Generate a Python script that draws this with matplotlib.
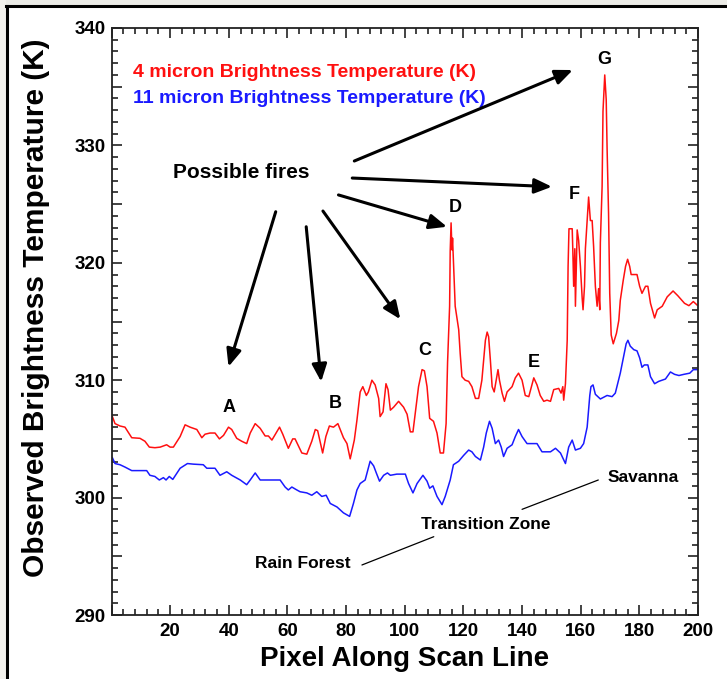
import matplotlib
matplotlib.use("Agg")
import matplotlib.pyplot as plt
from matplotlib import font_manager
from matplotlib.ticker import MultipleLocator, FuncFormatter
from matplotlib.patches import Rectangle
from matplotlib.lines import Line2D

# 4 micron brightness temperature (K) along the scan line
red_x = [0.3, 1.2, 2.9, 4.6, 6.9, 9.7, 11.4, 12.9, 14.8, 16.6, 18.8, 20.0, 21.1, 23.4, 25.1,
         26.8, 29.1, 30.8, 31.9, 33.6, 35.3, 36.8, 38.2, 39.9, 41.0, 42.7, 44.4, 46.1, 47.3,
         49.0, 50.7, 52.4, 53.5, 54.7, 57.3, 58.4, 60.3, 61.8, 62.6, 64.9, 66.6, 68.3, 69.5,
         70.3, 72.0, 73.1, 74.3, 75.7, 77.2, 79.1, 80.3, 81.4, 82.8, 83.7, 84.8, 85.7, 86.9,
         87.6, 88.8, 89.9, 91.1, 91.6, 92.6, 93.6, 94.3, 95.1, 96.2, 97.9, 99.6, 100.8, 101.9,
         102.8, 103.6, 104.7, 105.9, 106.7, 107.6, 108.5, 109.8, 111.0, 112.1, 113.2, 114.1,
         114.6, 115.3, 115.5, 115.8, 116.1, 116.3, 117.2, 118.4, 118.9, 119.5, 120.6, 121.8,
         122.9, 124.1, 125.2, 126.3, 127.5, 128.1, 128.6, 129.2, 129.8, 130.5, 131.2, 131.8,
         132.3, 133.2, 134.0, 134.9, 136.6, 137.7, 138.8, 140.0, 141.1, 142.3, 144.0, 145.1,
         146.2, 147.4, 148.5, 149.7, 150.8, 152.5, 153.3, 153.9, 154.2, 154.8, 155.4, 155.7,
         156.0, 157.1, 157.3, 157.6, 158.0, 158.2, 158.8, 159.3, 159.9, 160.5, 160.8, 161.3,
         161.6, 162.2, 162.7, 163.3, 163.9, 164.4, 165.0, 165.6, 166.1, 166.5, 166.7, 167.3,
         167.6, 168.2, 168.7, 169.0, 169.5, 169.9, 170.4, 171.1, 172.2, 173.0, 173.5, 174.5,
         175.3, 176.0, 176.7, 177.2, 179.2, 180.1, 180.9, 182.1, 182.9, 183.8, 185.2, 186.1,
         187.8, 189.5, 191.5, 193.1, 195.4, 196.9, 198.4, 199.7]
red_y = [306.9, 306.3, 306.1, 306.0, 305.1, 305.05, 304.8, 304.3, 304.25, 304.3, 304.5, 304.3,
         304.3, 305.2, 306.2, 306.0, 305.8, 305.1, 305.4, 305.5, 305.5, 305.0, 305.3, 306.0,
         305.8, 305.05, 304.8, 304.6, 305.5, 306.3, 305.9, 305.25, 305.25, 304.9, 306.0, 305.4,
         304.2, 305.0, 305.0, 303.8, 303.7, 304.8, 305.8, 305.7, 303.8, 305.2, 306.1, 306.0,
         306.3, 305.1, 304.6, 303.3, 304.9, 306.6, 309.0, 309.45, 308.7, 309.0, 310.0, 309.6,
         308.45, 306.9, 307.3, 309.7, 309.2, 307.45, 307.7, 308.2, 307.7, 307.1, 305.6, 305.6,
         307.2, 309.45, 310.9, 310.8, 309.45, 306.75, 306.5, 305.5, 303.8, 303.8, 306.3, 311.5,
         316.3, 321.0, 323.4, 321.1, 322.1, 316.3, 314.3, 312.3, 310.3, 310.0, 309.9, 309.45,
         308.45, 308.45, 310.0, 313.4, 314.1, 313.7, 311.7, 309.45, 309.0, 310.0, 310.9, 310.0,
         308.9, 308.2, 309.0, 309.45, 310.2, 310.6, 310.0, 308.7, 308.6, 310.2, 309.6, 308.7,
         308.2, 308.3, 308.2, 309.2, 309.3, 308.9, 309.45, 308.3, 309.7, 313.4, 319.7, 322.9,
         322.9, 321.2, 318.0, 321.2, 316.3, 322.8, 321.9, 319.7, 317.0, 316.0, 318.0, 321.2,
         323.6, 325.6, 323.6, 323.6, 321.4, 318.0, 316.3, 317.8, 316.0, 321.7, 326.5, 332.9,
         336.0, 333.9, 329.75, 324.2, 317.4, 313.85, 313.1, 314.0, 315.1, 316.8, 318.5, 319.7,
         320.3, 319.7, 319.0, 319.0, 318.0, 317.4, 318.0, 318.0, 316.55, 315.3, 316.0, 316.3,
         317.1, 317.6, 317.2, 316.55, 316.35, 316.7, 316.4]

# 11 micron brightness temperature (K) along the scan line
blue_x = [0.3, 1.2, 2.9, 4.6, 6.9, 12.0, 13.1, 14.8, 16.3, 17.7, 18.6, 19.7, 20.9, 23.4, 25.9,
          27.9, 31.3, 32.5, 35.3, 37.0, 39.3, 41.0, 43.9, 46.1, 47.3, 49.0, 50.7, 55.2, 57.5,
          59.2, 60.3, 61.5, 63.2, 64.3, 66.6, 68.3, 70.0, 71.7, 73.2, 74.6, 76.9, 79.1, 81.2,
          82.5, 83.7, 84.8, 86.5, 88.2, 89.4, 90.3, 91.4, 92.8, 94.1, 95.1, 97.3, 100.2, 101.3,
          102.8, 104.2, 106.2, 107.6, 108.5, 109.6, 111.0, 112.7, 113.8, 115.5, 116.6, 118.4,
          120.1, 121.8, 122.9, 124.1, 125.8, 126.9, 127.8, 128.9, 129.8, 130.9, 132.0, 132.9,
          133.7, 134.9, 136.6, 137.7, 138.8, 140.0, 141.7, 145.1, 146.8, 149.7, 151.4, 153.1,
          154.8, 155.9, 157.1, 158.2, 159.9, 161.0, 162.2, 163.1, 163.5, 164.2, 165.0, 166.7,
          169.0, 170.7, 171.8, 173.5, 174.6, 175.5, 176.1, 176.9, 178.1, 179.2, 180.1, 180.9,
          181.7, 182.9, 183.8, 185.2, 186.6, 188.9, 190.6, 192.0, 193.5, 195.2, 197.2, 198.4,
          199.7]
blue_y = [303.4, 302.9, 302.8, 302.6, 302.3, 302.3, 301.9, 301.8, 301.5, 301.7, 301.5, 301.8,
          301.55, 302.5, 302.9, 302.85, 302.8, 302.5, 302.5, 301.9, 302.2, 301.9, 301.5, 301.1,
          301.5, 302.1, 301.5, 301.5, 301.5, 300.9, 300.65, 300.9, 300.65, 300.5, 300.4, 300.2,
          300.5, 300.1, 300.2, 299.5, 299.2, 298.7, 298.4, 299.5, 300.65, 301.2, 301.5, 303.1,
          302.7, 302.1, 301.4, 301.9, 302.1, 301.9, 302.0, 302.0, 301.2, 300.4, 301.2, 301.9,
          301.4, 300.8, 301.0, 300.1, 299.4, 300.1, 301.5, 302.8, 303.1, 303.6, 304.05, 303.9,
          303.5, 303.2, 304.3, 305.5, 306.5, 305.9, 304.6, 304.9, 304.3, 303.5, 304.2, 304.5,
          305.2, 305.8, 305.2, 304.6, 304.6, 303.9, 303.9, 304.2, 303.8, 302.9, 304.3, 304.9,
          304.05, 304.2, 304.6, 306.0, 308.7, 309.45, 309.6, 308.8, 308.4, 308.7, 308.6, 308.9,
          310.6, 312.0, 313.1, 313.4, 312.9, 312.6, 312.5, 311.9, 311.1, 311.3, 311.3, 310.3,
          309.7, 309.9, 310.1, 310.7, 310.5, 310.4, 310.5, 310.6, 310.9, 310.9]

legend_labels = ["4 micron Brightness Temperature (K)", "11 micron Brightness Temperature (K)"]
fire_labels = ["A", "B", "C", "D", "E", "F", "G"]
fire_x = [40.1, 76.3, 106.9, 117.2, 143.9, 157.9, 168.1]
fire_y = [307.7, 308.0, 312.5, 324.7, 311.55, 325.8, 337.3]

installed = {f.name for f in font_manager.fontManager.ttflist}
narrow = "Liberation Sans Narrow" if "Liberation Sans Narrow" in installed else "Liberation Sans"
plt.rcParams["font.family"] = ["Liberation Sans", "DejaVu Sans"]

fig = plt.figure(figsize=(7.27, 6.79), dpi=100)
fig.patch.set_facecolor("white")

# screenshot-like frame around the figure
fig.patches.append(Rectangle((0, 1 - 5 / 679), 1, 5 / 679, transform=fig.transFigure,
                             facecolor="#ebebe6", edgecolor="none", zorder=0))
fig.patches.append(Rectangle((0, 0), 6 / 727, 1, transform=fig.transFigure,
                             facecolor="#f2f1ec", edgecolor="none", zorder=0))
fig.lines.append(Line2D([6 / 727, 1], [1 - 6 / 679, 1 - 6 / 679], transform=fig.transFigure,
                        color="black", lw=2.2))
fig.lines.append(Line2D([7 / 727, 7 / 727], [0, 1 - 6 / 679], transform=fig.transFigure,
                        color="black", lw=2.2))

ax = fig.add_axes([111.5 / 727, 1 - 615 / 679, 586.5 / 727, 587 / 679])
ax.plot(red_x, red_y, color="#ff1010", lw=1.1)
ax.plot(blue_x, blue_y, color="#1a1aff", lw=1.1)

ax.set_xlim(0, 200)
ax.set_ylim(290, 340)
ax.xaxis.set_major_locator(MultipleLocator(20))
ax.xaxis.set_minor_locator(MultipleLocator(4))
ax.yaxis.set_major_locator(MultipleLocator(5))
ax.yaxis.set_minor_locator(MultipleLocator(1))
ax.xaxis.set_major_formatter(FuncFormatter(lambda v, p: "" if v == 0 else "%d" % v))
ax.yaxis.set_major_formatter(FuncFormatter(lambda v, p: "%d" % v if v % 10 == 0 else ""))
ax.tick_params(which="both", direction="in", top=True, right=True, width=1.2, color="#222222")
ax.tick_params(which="major", length=7)
ax.tick_params(which="minor", length=4)
ax.tick_params(axis="x", pad=6)
ax.tick_params(axis="y", pad=4)
for lab in ax.get_xticklabels() + ax.get_yticklabels():
    lab.set_fontfamily(narrow)
    lab.set_fontweight("bold")
    lab.set_fontsize(13.5)
for s in ax.spines.values():
    s.set_linewidth(1.3)
    s.set_color("#222222")

ax.set_xlabel("Pixel Along Scan Line", fontsize=20, fontweight="bold", family=narrow)
ax.set_ylabel("Observed Brightness Temperature (K)", fontsize=21.5, fontweight="bold")
ax.xaxis.set_label_coords(0.5, -0.052)
ax.yaxis.set_label_coords(-0.105, 0.523)

ax.text(7.5, 336.2, legend_labels[0], color="#ff1010", fontsize=14, fontweight="bold",
        family=narrow, va="center")
ax.text(7.5, 334.0, legend_labels[1], color="#1a1aff", fontsize=14, fontweight="bold",
        family=narrow, va="center")

ax.text(44.3, 327.7, "Possible fires", fontsize=15, fontweight="bold", ha="center", va="center")
for lab, x, y in zip(fire_labels, fire_x, fire_y):
    ax.text(x, y, lab, fontsize=13, fontweight="bold", ha="center", va="center")

arrows = [((56.0, 324.35), (39.9, 311.15)), ((66.4, 323.07), (71.5, 309.87)),
          ((72.1, 324.41), (98.5, 315.19)), ((77.4, 325.78), (114.4, 323.07)),
          ((82.1, 327.22), (150.2, 326.48)), ((82.8, 328.67), (157.3, 336.42))]
for start, tip in arrows:
    ax.annotate("", xy=tip, xytext=start,
                arrowprops=dict(arrowstyle="-|>,head_length=0.75,head_width=0.32", lw=2.2,
                                color="black", shrinkA=0, shrinkB=0, mutation_scale=14))

ax.text(181.4, 301.75, "Savanna", fontsize=12.5, fontweight="bold", family=narrow,
        ha="center", va="center")
ax.text(127.7, 297.7, "Transition Zone", fontsize=12.5, fontweight="bold", family=narrow,
        ha="center", va="center")
ax.text(65.2, 294.4, "Rain Forest", fontsize=12.5, fontweight="bold", family=narrow,
        ha="center", va="center")
for start, end in [((166.0, 301.5), (140.0, 299.0)), ((109.9, 296.67), (85.4, 294.26))]:
    ax.annotate("", xy=end, xytext=start,
                arrowprops=dict(arrowstyle="-", lw=0.9, color="black", shrinkA=0, shrinkB=0))

fig.savefig("out.png", dpi=100)
